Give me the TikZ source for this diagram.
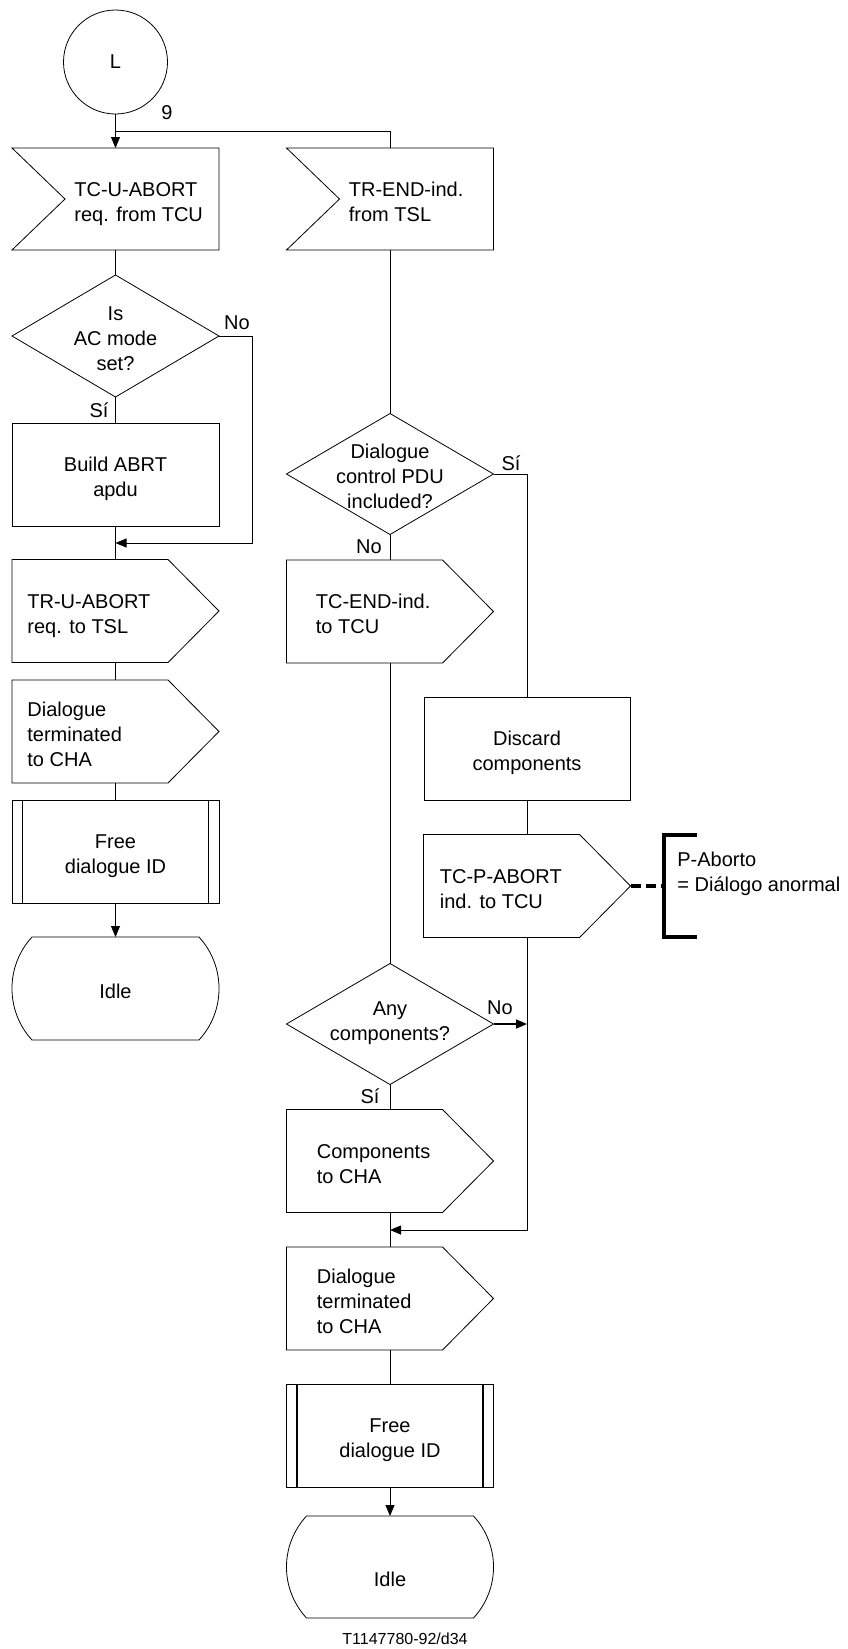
\documentclass[tikz,border=0pt]{standalone}
\usepackage{fontspec}
\setmainfont{Liberation Sans}
\usetikzlibrary{arrows.meta}
\newcommand{\mystrut}{\rule{0pt}{16pt}}
\begin{document}
\begin{tikzpicture}[x=1pt,y=-1pt, line width=0.8pt,
  bx/.style={rectangle, minimum width=207pt, minimum height=103pt, inner sep=0pt, outer sep=0pt},
  ctxt/.style={font=\fontsize{20}{25}\selectfont, align=center, inner sep=0pt, anchor=north},
  ltxt/.style={font=\fontsize{20}{25}\selectfont, align=left, inner sep=0pt, anchor=north west},
  lbl/.style={font=\fontsize{20}{24}\selectfont, inner sep=0pt},
  arr/.style={-{Triangle[length=11pt,width=9pt]}},
  ]
\useasboundingbox (0,0) rectangle (847,1649);

% ---------------- left column ----------------
\node[circle, draw, minimum size=104pt, inner sep=0pt, outer sep=0pt, font=\fontsize{20}{24}\selectfont] (c0) at (115.5,62) {L};
\coordinate (j1) at (115.5,131);

\node[bx, minimum height=102pt] (in1) at (115.5,199) {};
\draw (in1.north west) -- (in1.north east) -- (in1.south east) -- (in1.south west) -- ([xshift=53pt]in1.west) -- cycle;
\node[ltxt] (in1t) at ([xshift=62pt,yshift=19.35pt]in1.west) {\mystrut TC-U-ABORT\\req. from TCU};

\node[bx, minimum height=122pt] (d1) at (115.5,336) {};
\draw (d1.north) -- (d1.east) -- (d1.south) -- (d1.west) -- cycle;
\node[ctxt] (d1t) at ([yshift=31.85pt]d1.center) {\mystrut Is\\AC mode\\set?};

\node[bx, draw] (t1) at (115.5,474.5) {};
\node[ctxt] (t1t) at ([yshift=19.35pt]t1.center) {\mystrut Build ABRT\\apdu};

\node[bx] (o1) at (115.5,611) {};
\draw (o1.north west) -- ([xshift=-51pt]o1.north east) -- (o1.east) -- ([xshift=-51pt]o1.south east) -- (o1.south west) -- cycle;
\node[ltxt] (o1t) at ([xshift=15pt,yshift=19.35pt]o1.west) {\mystrut TR-U-ABORT\\req. to TSL};

\node[bx] (o2) at (115.5,731.5) {};
\draw (o2.north west) -- ([xshift=-51pt]o2.north east) -- (o2.east) -- ([xshift=-51pt]o2.south east) -- (o2.south west) -- cycle;
\node[ltxt] (o2t) at ([xshift=15pt,yshift=31.85pt]o2.west) {\mystrut Dialogue\\terminated\\to CHA};

\node[bx, draw] (f1) at (115.5,851.5) {};
\draw[line width=1.8pt] ([xshift=10.5pt]f1.north west) -- ([xshift=10.5pt]f1.south west);
\draw[line width=1.8pt] ([xshift=-10.5pt]f1.north east) -- ([xshift=-10.5pt]f1.south east);
\node[ctxt] (f1t) at ([yshift=19.35pt]f1.center) {\mystrut Free\\dialogue ID};

\node[bx] (idle1) at (115.5,988.5) {};
\draw (32,937) -- (199,937) .. controls (225.7,966) and (225.7,1011) .. (199,1040) -- (32,1040) .. controls (5.3,1011) and (5.3,966) .. (32,937) -- cycle;
\node[ctxt] (idle1t) at ([yshift=6.85pt]idle1.center) {\mystrut Idle};

% ---------------- right column ----------------
\node[bx, minimum height=102pt] (in2) at (390,199) {};
\draw (in2.north west) -- (in2.north east) -- (in2.south east) -- (in2.south west) -- ([xshift=53pt]in2.west) -- cycle;
\node[ltxt] (in2t) at ([xshift=62pt,yshift=19.35pt]in2.west) {\mystrut TR-END-ind.\\from TSL};

\node[bx, minimum height=121pt] (d2) at (390,474) {};
\draw (d2.north) -- (d2.east) -- (d2.south) -- (d2.west) -- cycle;
\node[ctxt] (d2t) at ([yshift=31.85pt]d2.center) {\mystrut Dialogue\\control PDU\\included?};

\node[bx] (o3) at (390,611.5) {};
\draw (o3.north west) -- ([xshift=-51pt]o3.north east) -- (o3.east) -- ([xshift=-51pt]o3.south east) -- (o3.south west) -- cycle;
\node[ltxt] (o3t) at ([xshift=29pt,yshift=19.35pt]o3.west) {\mystrut TC-END-ind.\\to TCU};

\node[bx, minimum height=121pt] (d3) at (390,1024) {};
\draw (d3.north) -- (d3.east) -- (d3.south) -- (d3.west) -- cycle;
\node[ctxt] (d3t) at ([yshift=25.35pt]d3.center) {\mystrut Any\\components?};

\node[bx] (o4) at (390,1161) {};
\draw (o4.north west) -- ([xshift=-51pt]o4.north east) -- (o4.east) -- ([xshift=-51pt]o4.south east) -- (o4.south west) -- cycle;
\node[ltxt] (o4t) at ([xshift=30pt,yshift=19.35pt]o4.west) {\mystrut Components\\to CHA};

\node[bx] (o5) at (390,1298.5) {};
\draw (o5.north west) -- ([xshift=-51pt]o5.north east) -- (o5.east) -- ([xshift=-51pt]o5.south east) -- (o5.south west) -- cycle;
\node[ltxt] (o5t) at ([xshift=30pt,yshift=31.85pt]o5.west) {\mystrut Dialogue\\terminated\\to CHA};

\node[bx, draw] (f2) at (390,1435.5) {};
\draw[line width=1.8pt] ([xshift=10.5pt]f2.north west) -- ([xshift=10.5pt]f2.south west);
\draw[line width=1.8pt] ([xshift=-10.5pt]f2.north east) -- ([xshift=-10.5pt]f2.south east);
\node[ctxt] (f2t) at ([yshift=19.35pt]f2.center) {\mystrut Free\\dialogue ID};

\node[bx, minimum height=102pt] (idle2) at (390,1567) {};
\draw (306.5,1516) -- (473.5,1516) .. controls (500.2,1545) and (500.2,1589) .. (473.5,1618) -- (306.5,1618) .. controls (279.8,1589) and (279.8,1545) .. (306.5,1516) -- cycle;
\node[ctxt] (idle2t) at ([yshift=-3pt]idle2.center) {\mystrut Idle};

% ---------------- branch ----------------
\node[bx, draw, minimum width=206pt] (t2) at (527,748.5) {};
\node[ctxt] (t2t) at ([yshift=19.35pt]t2.center) {\mystrut Discard\\components};

\node[bx] (o6) at (527,886) {};
\draw (o6.north west) -- ([xshift=-51pt]o6.north east) -- (o6.east) -- ([xshift=-51pt]o6.south east) -- (o6.south west) -- cycle;
\node[ltxt] (o6t) at ([xshift=16pt,yshift=19.35pt]o6.west) {\mystrut TC-P-ABORT\\ind. to TCU};

\coordinate (br) at (664,886);
\draw[line width=3.5pt, dash pattern=on 10pt off 5pt] (o6.east) -- (br);
\draw[line width=4pt] (697,835) -- (664,835) -- (664,937) -- (697,937);
\node[ltxt] (pab) at (677,850) {\mystrut P-Aborto\\= Diálogo anormal};

% ---------------- connectors ----------------
\draw[arr] (c0.south) -- (in1.north);
\draw (j1) -| (in2.north);
\draw (in1.south) -- (d1.north);
\draw (d1.south) -- (t1.north);
\draw (t1.south) -- (o1.north);
\coordinate (m1) at (115.5,543);
\draw[arr] (d1.east) -- ++(33,0) |- (m1);
\draw (o1.south) -- (o2.north);
\draw (o2.south) -- (f1.north);
\draw[arr] (f1.south) -- (idle1.north);

\draw (in2.south) -- (d2.north);
\draw (d2.south) -- (o3.north);
\draw (o3.south) -- (d3.north);
\draw (d3.south) -- (o4.north);
\draw (o4.south) -- (o5.north);
\draw (o5.south) -- (f2.north);
\draw[arr] (f2.south) -- (idle2.north);

\draw (d2.east) -| (t2.north);
\draw (t2.south) -- (o6.north);
\coordinate (m2) at (390,1230);
\draw[arr] (o6.south) |- (m2);
\coordinate (m3) at (527,1024);
\draw[arr, line width=1.6pt] (d3.east) -- (m3);

% ---------------- labels ----------------
\node[lbl] (l9) at (167,113) {9};
\node[lbl] (lno1) at (237,323) {No};
\node[lbl] (lsi1) at (99,410) {Sí};
\node[lbl] (lsi2) at (511,463) {Sí};
\node[lbl] (lno2) at (369,547) {No};
\node[lbl] (lno3) at (500,1008) {No};
\node[lbl] (lsi3) at (370,1096) {Sí};

\node[font=\fontsize{16}{18}\selectfont, inner sep=0pt] (ft) at (405,1639) {T1147780-92/d34};
\end{tikzpicture}
\end{document}
